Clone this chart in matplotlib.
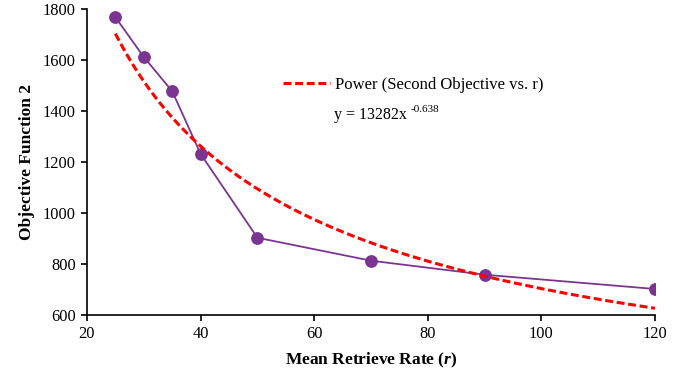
import numpy as np
import matplotlib.pyplot as plt

plt.rcParams['font.family'] = ['Liberation Serif', 'DejaVu Serif']
plt.rcParams['mathtext.fontset'] = 'custom'
plt.rcParams['mathtext.rm'] = 'Liberation Serif'
plt.rcParams['mathtext.it'] = 'Liberation Serif:italic'
plt.rcParams['mathtext.bf'] = 'Liberation Serif:bold'
plt.rcParams['mathtext.bfit'] = 'Liberation Serif:italic:bold'

# Mean retrieve rate vs objective function 2
rate = [25, 30, 35, 40, 50, 70, 90, 120]
obj2 = [1768, 1612, 1478, 1232, 903, 813, 758, 702]

# Power trendline coefficients shown on the chart
coef_a = 13282
coef_b = -0.638

x_ticks = [20, 40, 60, 80, 100, 120]
y_ticks = [600, 800, 1000, 1200, 1400, 1600, 1800]

fig = plt.figure(figsize=(6.92, 3.78), dpi=100)
ax = fig.add_axes([0.1257, 0.1667, 0.8208, 0.8093])

ax.plot(rate, obj2, color='#7B3590', lw=1.3, marker='o', ms=8.2, zorder=3)

xt = np.linspace(min(rate), max(rate), 300)
ax.plot(xt, coef_a * xt ** coef_b, color='#FF0000', lw=2.2, ls=(0, (2.6, 1.2)),
        label='Power (Second Objective vs. r)', zorder=4)

ax.set_xlim(20, 120)
ax.set_ylim(600, 1800)
ax.set_xticks(x_ticks)
ax.set_yticks(y_ticks)
ax.tick_params(labelsize=11.8, direction='out', length=4, width=1.2, pad=4)
for s in ['top', 'right']:
    ax.spines[s].set_visible(False)
for s in ['left', 'bottom']:
    ax.spines[s].set_linewidth(1.2)

ax.set_xlabel('Mean Retrieve Rate ($\\mathbfit{r}$)', fontsize=12.5, fontweight='bold', labelpad=6)
ax.set_ylabel('Objective Function 2', fontsize=12.5, fontweight='bold', labelpad=6)

ax.legend(loc='center left', bbox_to_anchor=(0.345, 0.752), frameon=False,
          fontsize=12, handlelength=2.8, handletextpad=0.3,
          borderpad=0, borderaxespad=0)
eq = ax.text(0.435, 0.654, 'y = 13282x ', transform=ax.transAxes,
             fontsize=11.5, va='center', ha='left')
ax.annotate(f'{coef_b}', xy=(1, 0.55), xycoords=eq, fontsize=8,
            va='bottom', ha='left')

fig.savefig('out.png', dpi=100)
